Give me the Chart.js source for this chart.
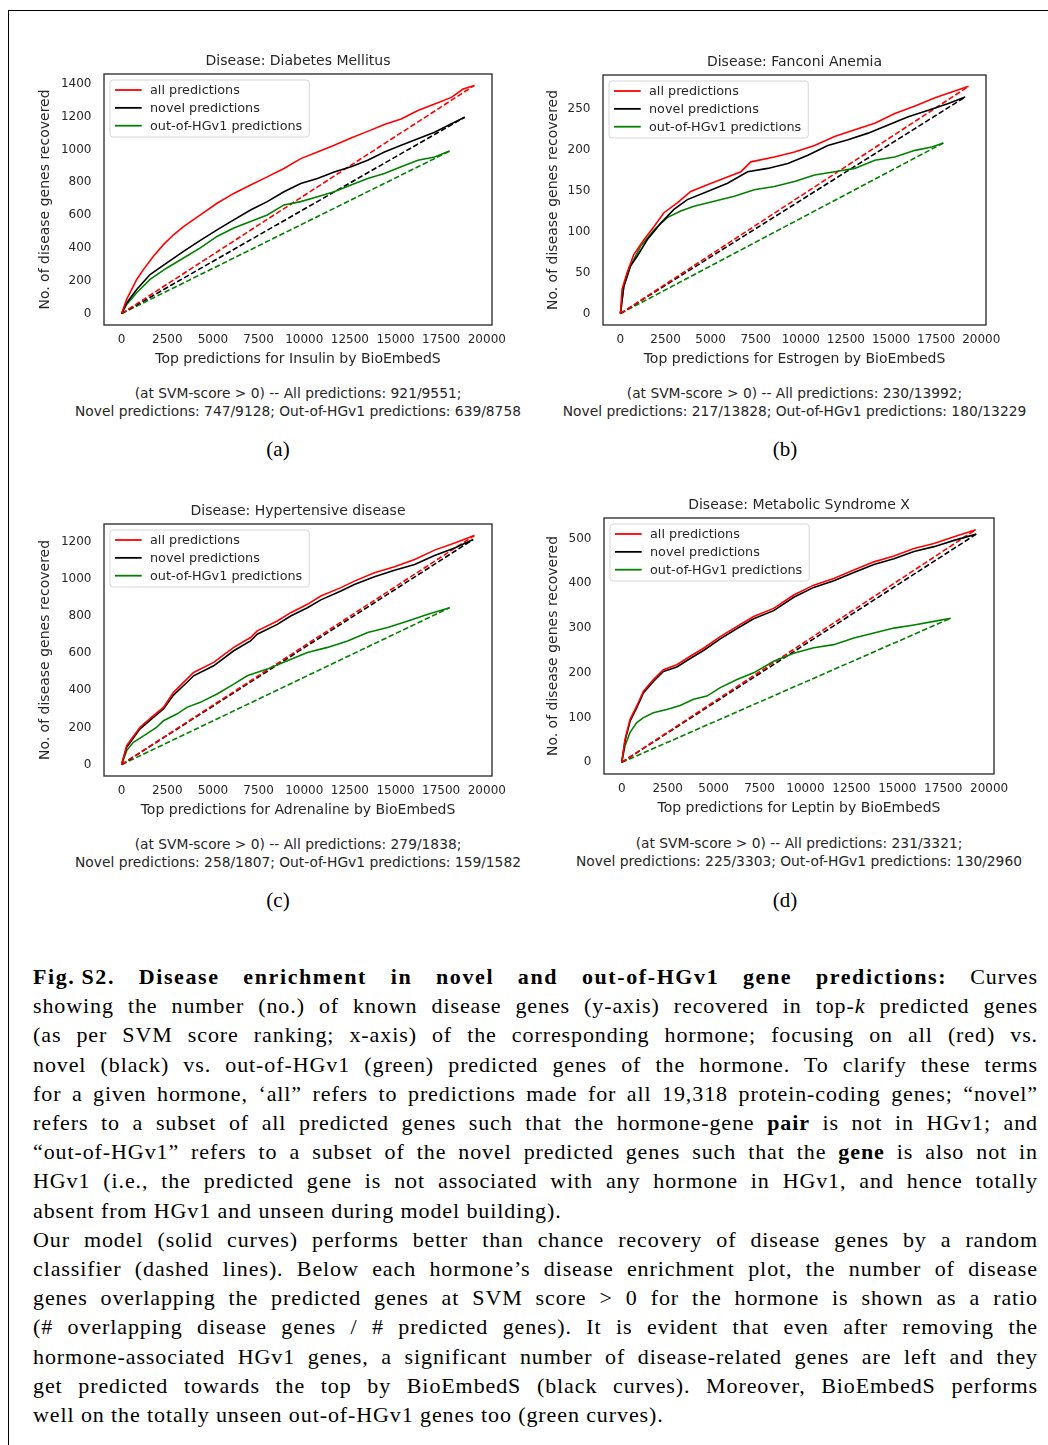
<!DOCTYPE html>
<html>
<head>
<meta charset="utf-8">
<script src="https://cdn.jsdelivr.net/npm/chart.js@4.4.1/dist/chart.umd.min.js"></script>
<style>
  body { margin: 0; background: #fff; width: 1048px; height: 1445px; position: relative; overflow: hidden; font-family: "DejaVu Sans", sans-serif; }
  .frame { position: absolute; left: 8px; top: 10px; width: 1100px; height: 1500px; border-top: 1px solid #000; border-left: 1px solid #000; }
  canvas { position: absolute; }
  .note { position: absolute; width: 600px; font-size: 13.8px; color: #262626; text-align: center; line-height: 17.7px; white-space: nowrap; }
  .sub { position: absolute; width: 60px; font-family: "Liberation Serif", serif; font-size: 21px; text-align: center; color: #000; }
  .caption { position: absolute; left: 33px; top: 962px; width: 1005px; font-family: "Liberation Serif", serif; font-size: 22px; line-height: 29.2px; letter-spacing: 0.9px; color: #000; }
  .caption div { text-align: justify; text-align-last: justify; }
  .caption div.last { text-align-last: left; }
  .caption div.head b { letter-spacing: 1.6px; }
</style>
</head>
<body>
<div class="frame"></div>

<script>
// shared axis ticks and series names
const xTicks = [0, 2500, 5000, 7500, 10000, 12500, 15000, 17500, 20000];
const seriesLabels = ['all predictions', 'novel predictions', 'out-of-HGv1 predictions'];
const seriesColors = ['#ff0000', '#000000', '#008000'];

// (a) Diabetes Mellitus / Insulin
const aYTicks = [0, 200, 400, 600, 800, 1000, 1200, 1400];
const aAllX = [0, 275, 825, 1190, 1740, 2290, 2840, 3390, 4310, 5225, 6140, 7060, 7975, 8890, 9810, 10725, 11640, 12560, 13475, 14390, 15310, 16225, 17140, 18060, 18700, 19318];
const aAllY = [0, 87, 208, 268, 349, 420, 480, 530, 601, 672, 732, 783, 833, 884, 944, 984, 1025, 1069, 1110, 1152, 1186, 1237, 1277, 1317, 1368, 1390];
const aNovelX = [0, 275, 825, 1555, 2475, 3390, 4310, 5225, 6140, 7060, 7975, 8890, 9810, 10725, 11640, 12560, 13475, 14390, 15310, 16225, 17140, 18060, 18790];
const aNovelY = [0, 65, 147, 238, 309, 379, 446, 510, 571, 631, 682, 742, 793, 823, 863, 894, 934, 984, 1025, 1065, 1105, 1156, 1196];
const aOutX = [0, 275, 825, 1555, 2475, 3390, 4310, 5225, 6140, 7060, 7975, 8890, 9810, 10725, 11640, 12560, 13475, 14390, 15310, 16225, 17140, 17965];
const aOutY = [0, 55, 127, 208, 278, 339, 400, 470, 521, 561, 601, 662, 682, 712, 742, 783, 823, 854, 894, 934, 954, 990];

// (b) Fanconi Anemia / Estrogen
const bYTicks = [0, 50, 100, 150, 200, 250];
const bAllX = [0, 93, 371, 742, 1300, 1855, 2410, 3155, 3896, 4825, 5750, 6680, 7235, 8530, 9650, 10760, 11870, 12990, 14100, 15210, 16330, 17440, 18370, 19300];
const bAllY = [0, 30, 50, 72, 90, 106, 123, 135, 149, 157, 165, 173, 185, 191, 197, 205, 216, 224, 232, 244, 253, 263, 270, 277];
const bNovelX = [0, 185, 556, 928, 1485, 2226, 2967, 3710, 4825, 5940, 7050, 8165, 9280, 10390, 11500, 12615, 13730, 14840, 15955, 17070, 18180, 19110];
const bNovelY = [0, 33, 58, 70, 90, 110, 127, 139, 149, 159, 173, 177, 183, 193, 205, 212, 220, 230, 240, 248, 256, 264];
const bOutX = [0, 185, 556, 1113, 1855, 2597, 3340, 4080, 5195, 6310, 7420, 8530, 9650, 10760, 11870, 12990, 14100, 15210, 16330, 17260, 17900];
const bOutY = [0, 33, 58, 82, 102, 117, 125, 131, 137, 143, 151, 155, 161, 169, 173, 177, 187, 191, 199, 203, 208];

// (c) Hypertensive disease / Adrenaline
const cYTicks = [0, 200, 400, 600, 800, 1000, 1200];
const cAllX = [0, 275, 1007, 1740, 2290, 2840, 3570, 3940, 5040, 6140, 7060, 7425, 8525, 9260, 10175, 10910, 12010, 12745, 13845, 14945, 16045, 17140, 18240, 19318];
const cAllY = [0, 102, 201, 263, 308, 389, 460, 496, 550, 631, 684, 720, 773, 818, 863, 908, 953, 988, 1033, 1066, 1105, 1155, 1194, 1234];
const cNovelX = [0, 275, 1007, 1740, 2290, 2840, 3570, 3940, 5040, 6140, 7060, 7425, 8525, 9260, 10175, 10910, 12010, 12745, 13845, 14945, 16045, 17140, 18240, 19250];
const cNovelY = [0, 93, 192, 254, 299, 374, 442, 478, 532, 613, 666, 702, 755, 800, 845, 887, 935, 970, 1011, 1047, 1078, 1126, 1167, 1212];
const cOutX = [0, 275, 640, 1373, 1923, 2290, 3023, 3570, 4310, 5225, 6140, 6875, 7975, 9075, 10175, 11275, 12375, 13475, 14575, 15675, 16775, 17965];
const cOutY = [0, 75, 120, 165, 201, 236, 272, 308, 335, 380, 433, 478, 514, 559, 604, 631, 666, 711, 738, 773, 809, 845];

// (d) Metabolic Syndrome X / Leptin
const dYTicks = [0, 100, 200, 300, 400, 500];
const dAllX = [0, 180, 453, 818, 1180, 1724, 2270, 3000, 3726, 4452, 5363, 6274, 7180, 8270, 9363, 10453, 11545, 12635, 13727, 14818, 15910, 17000, 18090, 19275];
const dAllY = [0, 52, 96, 126, 159, 185, 207, 218, 237, 255, 281, 304, 326, 344, 374, 396, 411, 430, 448, 461, 478, 489, 504, 520];
const dNovelX = [0, 180, 453, 818, 1180, 1724, 2270, 3000, 3726, 4452, 5363, 6274, 7180, 8270, 9363, 10453, 11545, 12635, 13727, 14818, 15910, 17000, 18090, 19300];
const dNovelY = [0, 48, 92, 122, 155, 181, 203, 213, 232, 250, 276, 299, 321, 339, 369, 391, 406, 424, 442, 455, 471, 482, 496, 510];
const dOutX = [0, 180, 453, 818, 1180, 1724, 2452, 3180, 3908, 4635, 5363, 6274, 7180, 8270, 9363, 10453, 11545, 12635, 13727, 14818, 15910, 17000, 17910];
const dOutY = [0, 37, 67, 89, 100, 111, 118, 127, 141, 148, 167, 185, 200, 226, 244, 256, 263, 278, 289, 300, 307, 315, 322];

const panels = [
  { title: 'Disease: Diabetes Mellitus', xlabel: 'Top predictions for Insulin by BioEmbedS', yTicks: aYTicks,
    series: [[aAllX, aAllY], [aNovelX, aNovelY], [aOutX, aOutY]],
    box: { left: 104, top: 74, w: 388, h: 251 }, yTitlePad: 6.6,
    note: ['(at SVM-score > 0) -- All predictions: 921/9551;', 'Novel predictions: 747/9128; Out-of-HGv1 predictions: 639/8758'],
    noteTop: 385, sub: '(a)', subX: 278, subY: 437 },
  { title: 'Disease: Fanconi Anemia', xlabel: 'Top predictions for Estrogen by BioEmbedS', yTicks: bYTicks,
    series: [[bAllX, bAllY], [bNovelX, bNovelY], [bOutX, bOutY]],
    box: { left: 603, top: 75, w: 383, h: 250 }, yTitlePad: 15.6,
    note: ['(at SVM-score > 0) -- All predictions: 230/13992;', 'Novel predictions: 217/13828; Out-of-HGv1 predictions: 180/13229'],
    noteTop: 385, sub: '(b)', subX: 785, subY: 437 },
  { title: 'Disease: Hypertensive disease', xlabel: 'Top predictions for Adrenaline by BioEmbedS', yTicks: cYTicks,
    series: [[cAllX, cAllY], [cNovelX, cNovelY], [cOutX, cOutY]],
    box: { left: 104, top: 524, w: 388, h: 252 }, yTitlePad: 6.6,
    note: ['(at SVM-score > 0) -- All predictions: 279/1838;', 'Novel predictions: 258/1807; Out-of-HGv1 predictions: 159/1582'],
    noteTop: 836, sub: '(c)', subX: 278, subY: 888 },
  { title: 'Disease: Metabolic Syndrome X', xlabel: 'Top predictions for Leptin by BioEmbedS', yTicks: dYTicks,
    series: [[dAllX, dAllY], [dNovelX, dNovelY], [dOutX, dOutY]],
    box: { left: 604, top: 518, w: 390, h: 256 }, yTitlePad: 14.9,
    note: ['(at SVM-score > 0) -- All predictions: 231/3321;', 'Novel predictions: 225/3303; Out-of-HGv1 predictions: 130/2960'],
    noteTop: 835, sub: '(d)', subX: 785, subY: 888 }
];

Chart.defaults.font.family = '"DejaVu Sans", sans-serif';
Chart.defaults.color = '#262626';

const Y_AXIS_W = 74, X_AXIS_H = 50, TITLE_H = 24, PAD_R = 30;

// axes frame on all four sides
const framePlugin = {
  id: 'frame',
  afterDatasetsDraw(chart) {
    const { ctx, chartArea: a } = chart;
    ctx.save();
    ctx.strokeStyle = '#262626';
    ctx.lineWidth = 1.3;
    ctx.strokeRect(a.left, a.top, a.right - a.left, a.bottom - a.top);
    ctx.restore();
  }
};

// matplotlib-like legend inside the plot, upper left
const boxLegend = {
  id: 'boxLegend',
  afterDatasetsDraw(chart) {
    const { ctx, chartArea: a } = chart;
    const items = chart.data.datasets.filter(d => !d.borderDash);
    ctx.save();
    ctx.font = '12.8px "DejaVu Sans"';
    const textW = Math.max(...items.map(d => ctx.measureText(d.label).width));
    const x0 = a.left + 6, y0 = a.top + 6, w = 40 + textW + 7, h = 57;
    ctx.beginPath();
    ctx.roundRect(x0, y0, w, h, 3);
    ctx.fillStyle = 'rgba(255,255,255,0.8)';
    ctx.fill();
    ctx.strokeStyle = '#d6d6d6';
    ctx.lineWidth = 1;
    ctx.stroke();
    items.forEach((d, i) => {
      const y = y0 + 10 + i * 17.85;
      ctx.beginPath();
      ctx.moveTo(x0 + 5, y);
      ctx.lineTo(x0 + 31.7, y);
      ctx.strokeStyle = d.borderColor;
      ctx.lineWidth = 1.8;
      ctx.stroke();
      ctx.fillStyle = '#262626';
      ctx.textBaseline = 'middle';
      ctx.fillText(d.label, x0 + 40, y + 0.5);
    });
    ctx.restore();
  }
};

panels.forEach((p, k) => {
  const cv = document.createElement('canvas');
  const W = Y_AXIS_W + p.box.w + PAD_R, H = TITLE_H + p.box.h + X_AXIS_H;
  cv.width = W; cv.height = H;
  cv.style.left = (p.box.left - Y_AXIS_W) + 'px';
  cv.style.top = (p.box.top - TITLE_H) + 'px';
  document.body.appendChild(cv);

  const allX = p.series.flatMap(s => s[0]);
  const allY = p.series.flatMap(s => s[1]);
  const xmax = Math.max(...allX), ymax = Math.max(...allY);

  const datasets = [];
  p.series.forEach(([xs, ys], i) => {
    datasets.push({
      label: seriesLabels[i],
      data: xs.map((x, j) => ({ x: x, y: ys[j] })),
      borderColor: seriesColors[i], borderWidth: 1.6, showLine: true, pointRadius: 0, tension: 0
    });
  });
  // random classifier: straight dashed line from origin to the curve's end
  p.series.forEach(([xs, ys], i) => {
    datasets.push({
      label: seriesLabels[i] + ' (random)',
      data: [{ x: xs[0], y: ys[0] }, { x: xs[xs.length - 1], y: ys[ys.length - 1] }],
      borderColor: seriesColors[i], borderWidth: 1.6, borderDash: [5.5, 2.5], showLine: true, pointRadius: 0
    });
  });

  new Chart(cv.getContext('2d'), {
    type: 'scatter',
    data: { datasets: datasets },
    options: {
      responsive: false,
      animation: false,
      devicePixelRatio: 1,
      layout: { autoPadding: false, padding: { left: 0, right: PAD_R, top: 0, bottom: 0 } },
      plugins: {
        legend: { display: false },
        tooltip: { enabled: false },
        title: {
          display: true, text: p.title, fullSize: false, color: '#262626',
          font: { size: 14, weight: 'normal', lineHeight: 1.2 },
          padding: { top: 3, bottom: 4.2 }
        }
      },
      scales: {
        x: {
          type: 'linear', min: -0.05 * xmax, max: 1.05 * xmax,
          grid: { display: false, drawTicks: false }, border: { display: false },
          afterBuildTicks: s => { s.ticks = xTicks.map(v => ({ value: v })); },
          afterFit: s => { s.height = X_AXIS_H; },
          ticks: { padding: 8, autoSkip: false, maxRotation: 0, font: { size: 12 }, color: '#262626', callback: v => String(v) },
          title: { display: true, text: p.xlabel, color: '#262626', font: { size: 14, lineHeight: 1.2 }, padding: { top: 0, bottom: 7.6 } }
        },
        y: {
          type: 'linear', min: -0.05 * ymax, max: 1.05 * ymax,
          grid: { display: false, drawTicks: false }, border: { display: false },
          afterBuildTicks: s => { s.ticks = p.yTicks.map(v => ({ value: v })); },
          afterFit: s => { s.width = Y_AXIS_W; },
          ticks: { padding: 12.5, autoSkip: false, font: { size: 12 }, color: '#262626', callback: v => String(v) },
          title: { display: true, text: 'No. of disease genes recovered', color: '#262626', font: { size: 14, lineHeight: 1.2 }, padding: { top: p.yTitlePad, bottom: 0 } }
        }
      }
    },
    plugins: [framePlugin, boxLegend]
  });

  const cx = p.box.left + p.box.w / 2;
  const note = document.createElement('div');
  note.className = 'note';
  note.style.left = (cx - 300) + 'px';
  note.style.top = p.noteTop + 'px';
  note.innerHTML = p.note.map(t => t.replace(/&/g, '&amp;').replace(/>/g, '&gt;')).join('<br>');
  document.body.appendChild(note);

  const sub = document.createElement('div');
  sub.className = 'sub';
  sub.style.left = (p.subX - 30) + 'px';
  sub.style.top = p.subY + 'px';
  sub.textContent = p.sub;
  document.body.appendChild(sub);
});
</script>

<div class="caption">
  <div class="head"><b>Fig.&#8201;S2. Disease enrichment in novel and out-of-HGv1 gene predictions:</b> Curves</div>
  <div>showing the number (no.) of known disease genes (y-axis) recovered in top-<i>k</i> predicted genes</div>
  <div>(as per SVM score ranking; x-axis) of the corresponding hormone; focusing on all (red) vs.</div>
  <div>novel (black) vs. out-of-HGv1 (green) predicted genes of the hormone. To clarify these terms</div>
  <div>for a given hormone, ‘all” refers to predictions made for all 19,318 protein-coding genes; “novel”</div>
  <div>refers to a subset of all predicted genes such that the hormone-gene <b>pair</b> is not in HGv1; and</div>
  <div>“out-of-HGv1” refers to a subset of the novel predicted genes such that the <b>gene</b> is also not in</div>
  <div>HGv1 (i.e., the predicted gene is not associated with any hormone in HGv1, and hence totally</div>
  <div class="last">absent from HGv1 and unseen during model building).</div>
  <div>Our model (solid curves) performs better than chance recovery of disease genes by a random</div>
  <div>classifier (dashed lines). Below each hormone’s disease enrichment plot, the number of disease</div>
  <div>genes overlapping the predicted genes at SVM score &gt; 0 for the hormone is shown as a ratio</div>
  <div>(# overlapping disease genes / # predicted genes). It is evident that even after removing the</div>
  <div>hormone-associated HGv1 genes, a significant number of disease-related genes are left and they</div>
  <div>get predicted towards the top by BioEmbedS (black curves). Moreover, BioEmbedS performs</div>
  <div class="last">well on the totally unseen out-of-HGv1 genes too (green curves).</div>
</div>
</body>
</html>
